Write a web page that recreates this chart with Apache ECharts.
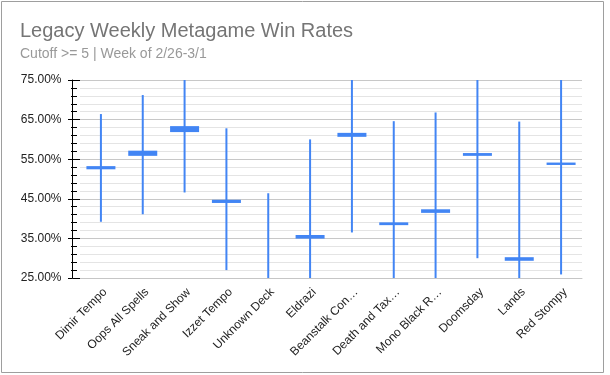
<!DOCTYPE html>
<html>
<head>
<meta charset="utf-8">
<script src="https://cdn.jsdelivr.net/npm/echarts@6/dist/echarts.min.js"></script>
<style>
  html, body { margin: 0; padding: 0; background: #fff; }
  #chart { width: 610px; height: 375px; }
</style>
</head>
<body>
<div id="chart"></div>
<script>
// deck names as shown on the axis (long ones are cut off in the original)
const decks = ['Dimir Tempo', 'Oops All Spells', 'Sneak and Show', 'Izzet Tempo', 'Unknown Deck', 'Eldrazi',
  'Beanstalk Con…', 'Death and Tax…', 'Mono Black R…', 'Doomsday', 'Lands', 'Red Stompy']
// win rates in %, values under 25 fall off the bottom of the axis
const opens = [52.7, 56.1, 62.1, 44.2, 22.0, 35.2, 60.9, 38.6, 41.7, 56.1, 29.6, 53.8]
const closes = [53.0, 56.9, 63.1, 44.5, 22.5, 35.6, 61.4, 38.8, 42.1, 56.3, 30.0, 53.9]
const lows = [39.2, 41.1, 46.6, 27.0, 24.0, 24.0, 36.5, 24.0, 24.0, 30.0, 24.0, 25.9]
const highs = [66.4, 71.2, 75.0, 62.8, 46.4, 60.0, 75.0, 64.6, 66.8, 75.0, 64.5, 75.0]
const yTicks = { min: 25, max: 75, interval: 10 }

const blue = '#4285f4'
const font = '"Liberation Sans", Arial, sans-serif'

const rows = decks.map((d, i) => [i, opens[i], closes[i], lows[i], highs[i]])

// wick + thin box, cut to the plot area
function renderCandle(params, api) {
  const i = api.value(0)
  const o = api.coord([i, api.value(1)])
  const c = api.coord([i, api.value(2)])
  const lo = api.coord([i, api.value(3)])
  const hi = api.coord([i, api.value(4)])
  const cs = params.coordSys
  const area = { x: cs.x, y: cs.y, width: cs.width, height: cs.height }
  const x = lo[0]
  const top = Math.min(o[1], c[1])
  const bot = Math.max(o[1], c[1])
  const wick = echarts.graphic.clipRectByRect({ x: x - 1, y: hi[1], width: 2, height: lo[1] - hi[1] }, area)
  const box = echarts.graphic.clipRectByRect({ x: x - 14.5, y: top - 1, width: 29, height: bot - top + 2 }, area)
  const children = []
  if (wick) children.push({ type: 'rect', shape: wick, style: { fill: blue } })
  if (box) children.push({ type: 'rect', shape: box, style: { fill: blue } })
  return { type: 'group', children }
}

const chart = echarts.init(document.getElementById('chart'))
chart.setOption({
  animation: false,
  backgroundColor: '#fff',
  graphic: [{
    type: 'rect',
    shape: { x: 1.5, y: 1.5, width: 602, height: 371 },
    style: { fill: 'none', stroke: '#9e9e9e', lineWidth: 1 },
    silent: true
  }],
  title: {
    text: 'Legacy Weekly Metagame Win Rates',
    subtext: 'Cutoff >= 5 | Week of 2/26-3/1',
    left: 20,
    top: 21,
    padding: 0,
    itemGap: 6,
    textStyle: { fontFamily: font, fontSize: 20, fontWeight: 'normal', color: '#757575' },
    subtextStyle: { fontFamily: font, fontSize: 14, color: '#999999' }
  },
  grid: { left: 80, right: 28, top: 80, bottom: 97 },
  xAxis: {
    type: 'category',
    data: decks,
    axisLine: { lineStyle: { color: '#c6c6c6' } },
    axisTick: { show: false },
    axisLabel: {
      rotate: 45, margin: 8, verticalAlign: 'top',
      fontFamily: font, fontSize: 12, color: '#222', interval: 0
    }
  },
  yAxis: [{
    type: 'value',
    ...yTicks,
    position: 'left',
    offset: 7.5,
    axisLine: { show: true, lineStyle: { color: '#000' } },
    axisTick: { show: true, length: 4.5, lineStyle: { color: '#000' } },
    minorTick: { show: true, splitNumber: 5, length: 1.5, lineStyle: { color: '#000' } },
    axisLabel: {
      margin: 11, fontFamily: font, fontSize: 12, color: '#222',
      formatter: v => v.toFixed(2) + '%'
    },
    splitLine: { lineStyle: { color: '#c8c8c8' } },
    minorSplitLine: { show: true, lineStyle: { color: '#e4e4e4' } }
  }, {
    type: 'value',
    ...yTicks,
    position: 'left',
    offset: 7.5,
    axisLine: { show: false },
    axisTick: { show: true, inside: true, length: 7.5, lineStyle: { color: '#000' } },
    minorTick: { show: true, splitNumber: 5, length: 4.5, lineStyle: { color: '#000' } },
    axisLabel: { show: false },
    splitLine: { show: false }
  }],
  series: [{
    type: 'custom',
    data: rows,
    encode: { x: 0, y: [1, 2, 3, 4] },
    renderItem: renderCandle
  }]
})
</script>
</body>
</html>
